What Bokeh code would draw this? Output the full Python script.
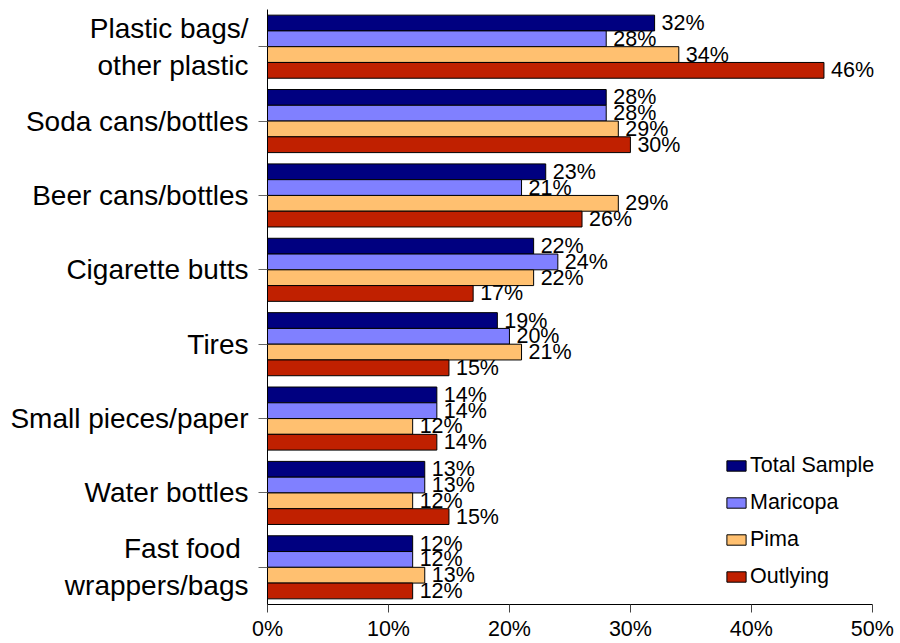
from bokeh.plotting import figure
from bokeh.models import (ColumnDataSource, FactorRange, Range1d, FixedTicker,
                          PrintfTickFormatter, Legend, LegendItem)
from bokeh.transform import dodge
from bokeh.core.properties import value
from bokeh.embed import file_html
from bokeh.resources import INLINE

categories = ["Plastic bags/\nother plastic", "Soda cans/bottles", "Beer cans/bottles",
              "Cigarette butts", "Tires", "Small pieces/paper", "Water bottles",
              "Fast food \nwrappers/bags"]
series = ["Total Sample", "Maricopa", "Pima", "Outlying"]
total_sample = [32, 28, 23, 22, 19, 14, 13, 12]
maricopa = [28, 28, 21, 24, 20, 14, 13, 12]
pima = [34, 29, 29, 22, 21, 12, 12, 13]
outlying = [46, 30, 26, 17, 15, 14, 15, 12]
x_ticks = [0, 10, 20, 30, 40, 50]

values_by_series = [total_sample, maricopa, pima, outlying]
colors = ["#000080", "#8080FF", "#FFC070", "#C02000"]
offsets = [0.318, 0.106, -0.106, -0.318]
bar_h = 0.212
FONT = "Liberation Sans"

# frame extends a little past 50% so end labels/legend are not clipped;
# the axis line itself is bounded to 0..50
p = figure(y_range=FactorRange(factors=list(reversed(categories)), range_padding=0),
           x_range=Range1d(0, 51.5), width=900, height=643,
           output_backend="svg", toolbar_location=None,
           min_border_left=267, min_border_right=10, min_border_top=9,
           min_border_bottom=37)
p.outline_line_color = None
p.xgrid.grid_line_color = None
p.ygrid.grid_line_color = None
p.background_fill_color = "white"

items = []
for name, vals, col, off in zip(series, values_by_series, colors, offsets):
    src = ColumnDataSource(dict(cat=categories, val=vals,
                                lab=[f"{v}%" for v in vals]))
    r = p.hbar(y=dodge("cat", off, range=p.y_range), right="val", left=0,
               height=bar_h, source=src, fill_color=col,
               line_color="black", line_width=1)
    p.text(x="val", y=dodge("cat", off, range=p.y_range), text="lab", source=src,
           x_offset=7, text_baseline="middle", text_align="left",
           text_font=value(FONT), text_font_size="21.5px", text_color="black")
    items.append(LegendItem(label=name, renderers=[r]))

legend = Legend(items=items, location=(457, 15), orientation="vertical",
                glyph_width=24, glyph_height=13, label_standoff=2,
                label_height=24, spacing=12, padding=0, margin=0,
                border_line_color=None, background_fill_alpha=0,
                label_text_font=FONT, label_text_font_size="21.5px",
                label_text_color="black")
p.add_layout(legend)

xa = p.xaxis[0]
xa.ticker = FixedTicker(ticks=x_ticks)
xa.bounds = (0, 50)
xa.formatter = PrintfTickFormatter(format="%d%%")
xa.major_tick_in = 0
xa.major_tick_out = 8
xa.minor_tick_line_color = None
xa.axis_line_color = "black"
xa.major_tick_line_color = "#444444"
xa.major_label_standoff = 4
xa.major_label_text_font = FONT
xa.major_label_text_font_size = "21.5px"
xa.major_label_text_color = "black"

ya = p.yaxis[0]
ya.major_tick_in = 0
ya.major_tick_out = 9
ya.axis_line_color = "black"
ya.major_tick_line_color = "#666666"
ya.major_label_standoff = 10
ya.major_label_text_font = FONT
ya.major_label_text_font_size = "28px"
ya.major_label_text_color = "black"

open("out.html", "w").write(file_html(p, INLINE))
